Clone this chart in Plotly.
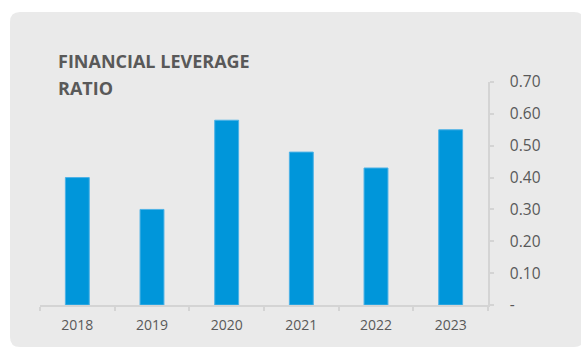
import plotly.graph_objects as go

# Financial leverage ratio by year
years = ["2018", "2019", "2020", "2021", "2022", "2023"]
ratios = [0.40, 0.30, 0.58, 0.48, 0.43, 0.55]

y_ticks = [0.0, 0.1, 0.2, 0.3, 0.4, 0.5, 0.6, 0.7]
y_tick_text = ["-", "0.10", "0.20", "0.30", "0.40", "0.50", "0.60", "0.70"]

title_lines = ["FINANCIAL LEVERAGE", "RATIO"]

W, H = 581, 349
L, R, T, B = 40, 93, 82, 44
PW, PH = W - L - R, H - T - B


def px_x(x):
    return (x - L) / PW


def px_y(y):
    return (H - B - y) / PH


def rounded_rect(x0, y0, x1, y1, r):
    # SVG path for a rounded rectangle, given in pixel coordinates
    X = lambda v: px_x(v)
    Y = lambda v: px_y(v)
    rx = r / PW
    ry = r / PH
    return (
        f"M {X(x0)+rx},{Y(y0)} L {X(x1)-rx},{Y(y0)} "
        f"Q {X(x1)},{Y(y0)} {X(x1)},{Y(y0)-ry} "
        f"L {X(x1)},{Y(y1)+ry} Q {X(x1)},{Y(y1)} {X(x1)-rx},{Y(y1)} "
        f"L {X(x0)+rx},{Y(y1)} Q {X(x0)},{Y(y1)} {X(x0)},{Y(y1)+ry} "
        f"L {X(x0)},{Y(y0)-ry} Q {X(x0)},{Y(y0)} {X(x0)+rx},{Y(y0)} Z"
    )


axis_gray = "#D4D4D4"
text_gray = "#595959"

fig = go.Figure(
    go.Bar(
        x=years,
        y=ratios,
        width=0.32,
        marker=dict(color="#0096DA", line=dict(color="#4DB2E6", width=1)),
        hoverinfo="x+y",
    )
)

# two-line heading, each line placed separately for wider line spacing
title_annotations = [
    dict(
        text=line,
        xref="paper",
        yref="paper",
        x=px_x(56),
        y=px_y(top),
        xanchor="left",
        yanchor="top",
        align="left",
        showarrow=False,
        font=dict(family="Open Sans", size=18, weight=700, color=text_gray),
    )
    for line, top in zip(title_lines, [46.5, 73.5])
]

fig.update_layout(
    width=W,
    height=H,
    margin=dict(l=L, r=R, t=T, b=B, pad=0),
    paper_bgcolor="white",
    plot_bgcolor="rgba(0,0,0,0)",
    showlegend=False,
    font=dict(family="Open Sans", color=text_gray),
    shapes=[
        dict(
            type="path",
            xref="paper",
            yref="paper",
            path=rounded_rect(10, 12, 584, 347, 10),
            fillcolor="#EAEAEA",
            line=dict(width=0),
            layer="below",
        )
    ],
    annotations=title_annotations,
)

fig.update_xaxes(
    type="category",
    range=[-0.5, 5.5],
    showline=True,
    linecolor=axis_gray,
    linewidth=1.5,
    ticks="outside",
    tickson="boundaries",
    ticklen=4,
    tickcolor=axis_gray,
    tickwidth=1.5,
    showgrid=False,
    tickfont=dict(family="Open Sans", size=14, color=text_gray),
    ticklabelstandoff=6,
)

fig.update_yaxes(
    side="right",
    range=[0, 0.7],
    tickvals=y_ticks,
    ticktext=y_tick_text,
    showline=True,
    linecolor=axis_gray,
    linewidth=1.5,
    ticks="outside",
    ticklen=4,
    tickcolor=axis_gray,
    tickwidth=1.5,
    showgrid=False,
    zeroline=False,
    tickfont=dict(family="Open Sans", size=15.5, color=text_gray),
    ticklabelstandoff=13,
)

fig.write_html("out.html")
